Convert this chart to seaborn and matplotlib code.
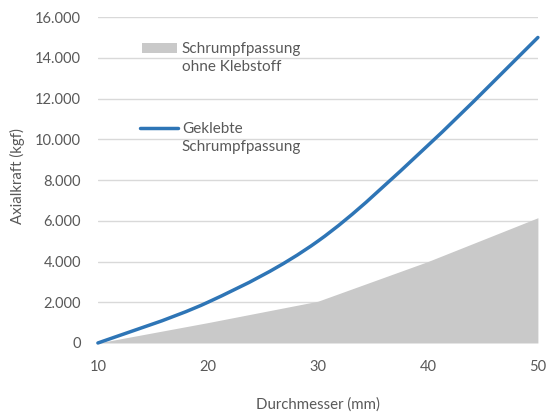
import numpy as np
import matplotlib
matplotlib.use("Agg")
import matplotlib.pyplot as plt
from matplotlib.path import Path
from matplotlib.patches import PathPatch, Rectangle
from matplotlib.lines import Line2D
from matplotlib.ticker import FuncFormatter
import seaborn as sns

# Data: axial force by shaft diameter
durchmesser = [10, 20, 30, 40, 50]
kraft_ohne_klebstoff = [0, 1000, 2050, 4000, 6150]
kraft_geklebt = [0, 2000, 5000, 9700, 15000]
x_ticks = [10, 20, 30, 40, 50]
y_ticks = [0, 2000, 4000, 6000, 8000, 10000, 12000, 14000, 16000]
label_ohne = "Schrumpfpassung\nohne Klebstoff"
label_geklebt = "Geklebte\nSchrumpfpassung"

sns.set_theme(style="white")
plt.rcParams["font.family"] = ["Lato", "DejaVu Sans"]

TEXT = "#595959"
GRID = "#d9d9d9"
GRAY = "#c9c9c9"
BLUE = "#2e75b6"


def smooth_path(xs, ys):
    """Catmull-Rom style cubic Bezier path through the data points."""
    pts = np.column_stack([xs, ys]).astype(float)
    ext = np.vstack([pts[0], pts, pts[-1]])
    verts = [pts[0]]
    codes = [Path.MOVETO]
    for i in range(len(pts) - 1):
        p0, p1, p2, p3 = ext[i], ext[i + 1], ext[i + 2], ext[i + 3]
        c1 = p1 + (p2 - p0) / 6.0
        c2 = p2 - (p3 - p1) / 6.0
        verts += [c1, c2, p2]
        codes += [Path.CURVE4] * 3
    return Path(verts, codes)


fig = plt.figure(figsize=(5.5, 4.17), dpi=100)
ax = fig.add_axes([0.178, 0.1775, 0.8, 0.7815])

ax.fill_between(durchmesser, kraft_ohne_klebstoff, 0, color=GRAY, lw=0, zorder=2)

line = PathPatch(smooth_path(durchmesser, kraft_geklebt), facecolor="none",
                 edgecolor=BLUE, lw=2.5, capstyle="round", zorder=3,
                 clip_on=False)
ax.add_patch(line)

ax.set_xlim(10, 50)
ax.set_ylim(0, 16000)
ax.set_xticks(x_ticks)
ax.set_yticks(y_ticks)
ax.yaxis.set_major_formatter(FuncFormatter(lambda v, _: f"{v:,.0f}".replace(",", ".")))
ax.grid(axis="y", color=GRID, lw=1.0, zorder=0)
ax.grid(axis="x", visible=False)
ax.set_axisbelow(True)
for s in ax.spines.values():
    s.set_visible(False)
ax.tick_params(axis="both", length=0, labelsize=10.5, colors=TEXT)
ax.tick_params(axis="x", pad=12)
ax.tick_params(axis="y", pad=12)

ax.set_xlabel("Durchmesser (mm)", fontsize=10.8, color=TEXT, va="center")
ax.set_ylabel("Axialkraft (kgf)", fontsize=10.8, color=TEXT, va="center")
ax.xaxis.set_label_coords(0.5, -0.19)
ax.yaxis.set_label_coords(-0.182, 0.512)

# Legend drawn inside the plot area
ax.add_patch(Rectangle((0.10, 0.891), 0.08, 0.028, transform=ax.transAxes,
                       facecolor=GRAY, edgecolor="none", zorder=4))
ax.add_line(Line2D([0.095, 0.182], [0.660, 0.660], transform=ax.transAxes,
                   color=BLUE, lw=2.5, zorder=4))
ax.text(0.191, 0.874, label_ohne, transform=ax.transAxes, fontsize=11,
        color=TEXT, va="center", ha="left", linespacing=1.35)
ax.text(0.191, 0.630, label_geklebt, transform=ax.transAxes, fontsize=11,
        color=TEXT, va="center", ha="left", linespacing=1.35)

fig.savefig("out.png", dpi=100, facecolor="white")
